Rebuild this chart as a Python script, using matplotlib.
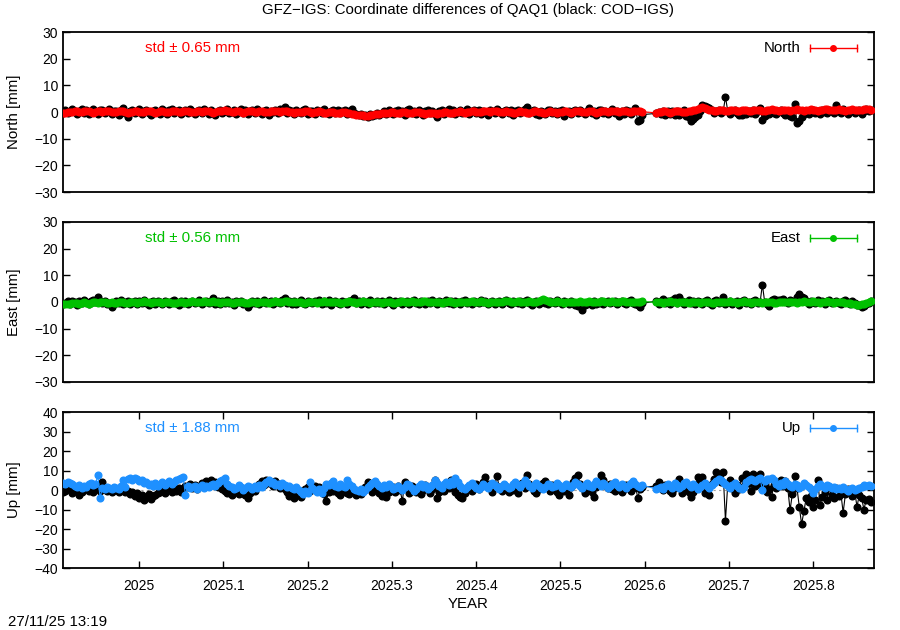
import numpy as np
import matplotlib
matplotlib.use("Agg")
import matplotlib.pyplot as plt

plt.rcParams['font.family'] = ['Liberation Sans', 'DejaVu Sans']
plt.rcParams['font.size'] = 10.8

# daily solutions, first epoch (decimal year) and days without data
t0 = 2024.910
missing_days = [252, 253, 254, 255, 256]
n_days = 351

# North [mm]: GFZ-IGS (red) and COD-IGS (black)
north_cod = [
    -0.5, 0.8, -0.3, 0.5, 1.2, 0.2, -0.8, 0.4, 1.0, -0.2, 0.6, -0.9, 0.3, 1.1, 0.0, -0.6, 0.7, 0.9, -0.4, 0.2,
    1.0, -0.7, 0.5, 0.3, -1.0, 0.6, 1.6, -0.3, -1.8, 0.4, 0.9, -0.5, 0.2, 1.1, -0.8, 0.3, 0.7, -0.2, -1.1, 0.5,
    0.8, 0.0, -0.6, 1.0, 0.4, -0.9, 0.6, 1.2, -0.3, 0.2, 0.9, -0.7, 0.1, 0.6, -0.4, 1.0, 0.3, -0.8, 0.5, 0.7,
    -0.2, 1.1, 0.4, -0.6, 0.8, 0.0, -1.0, 0.5, 0.9, -0.3, 0.3, 1.2, -0.5, 0.1, 0.7, -0.9, 0.4, 1.0, -0.2, 0.6,
    -0.7, 0.3, 0.8, -0.4, 1.1, 0.2, -0.6, 0.5, 0.9, -1.0, 0.4, 0.0, 0.7, -0.5, 1.0, 0.3, 1.8, -0.4, 0.6, 0.2,
    -0.8, 0.9, 0.1, -0.3, 0.7, 1.0, -0.6, 0.4, 0.2, -0.9, 0.8, 0.3, -0.4, 1.1, 0.0, -0.7, 0.5, 0.6, -0.2, 0.9,
    -0.5, 0.2, 0.7, -0.8, 0.3, 1.0, -0.4, -0.9, -1.2, -0.6, -1.5, -1.1, -1.8, -0.9, -1.4, -1.0, -0.5, -1.2, -0.3, 0.4,
    -0.6, 0.8, 0.1, -0.9, 0.5, 0.9, -0.3, 0.2, -1.0, 0.6, 1.0, -0.4, 0.3, -0.7, 0.8, 0.0, -1.1, 0.5, 0.7, -0.5,
    0.3, -0.8, -2.0, 0.4, 0.9, -0.6, 0.2, 1.0, -0.3, 0.6, -0.9, 0.1, 0.8, -0.5, 0.4, 1.1, -0.7, 0.3, 0.6, -0.2,
    0.9, -0.6, 0.4, 0.0, -1.0, 0.7, 0.2, -0.4, 1.0, 0.5, -0.8, 0.3, 0.8, -0.3, 0.6, -1.1, 0.2, 0.9, -0.5, 0.4,
    1.0, 1.8, -0.4, 0.3, 0.7, -0.6, -1.0, 0.5, 0.1, -0.8, 0.6, 0.9, -0.3, 0.2, -0.7, 0.4, 0.8, -1.5, 0.0, 0.5,
    -0.9, 0.3, 0.7, -0.4, 0.9, 0.1, -0.6, 0.5, 1.5, -0.3, 0.2, -1.0, 0.6, 0.8, -0.5, 0.3, -0.8, 0.4, 1.0, -0.2,
    0.5, -1.5, 0.2, -0.7, 0.6, 0.3, -0.9, 0.4, 1.5, -3.5, -3.0, -1.0,
    # gap
    -0.5, 0.0, -0.8, 0.4, -1.2, 0.3, -0.6, 0.2, -1.0, 0.5, -1.0, -0.3, 0.6, -1.4, -2.0, -3.5, -2.8, -2.0, -1.2, 0.5,
    2.5, 2.2, 2.0, 1.5, 0.8, -0.4, 0.3, 0.6, -0.5, 0.2, 5.6, 0.4, -0.6, 0.3, 0.7, -0.4, -1.0, -1.3, 0.2, -0.6,
    0.5, -0.3, 0.8, -0.8, 0.2, 1.5, -3.0, -1.5, 0.3, -0.7, 0.6, -0.2, -0.9, 0.4, 0.8, -0.5, -1.2, 0.3, -1.5, -2.0,
    3.0, -4.0, -3.2, -2.0, -0.8, 0.2, -0.6, 0.5, 0.9, -0.3, 0.4, -0.7, 0.6, 0.1, -0.5, 0.8, 0.3, -0.4, 2.5, 0.6,
    -0.5, 1.0, 0.2, -0.8, 0.5, 0.9, -0.3, 0.4, 0.7, -0.6, 0.3, 1.0, 0.2, 0.6,
]
north_gfz = [
    -0.5, -0.3, -0.1, 0.1, 0.0, 0.2, 0.3, 0.1, -0.1, 0.2, 0.4, 0.2, 0.0, -0.2, 0.1, 0.3, 0.2, 0.0, 0.2, 0.4,
    0.3, 0.1, -0.1, 0.0, 0.2, 0.4, 0.3, 0.1, -0.2, -0.1, 0.1, 0.3, 0.2, 0.0, -0.1, 0.1, 0.3, 0.4, 0.2, 0.0,
    -0.2, 0.0, 0.2, 0.3, 0.1, -0.1, 0.1, 0.3, 0.5, 0.3, 0.1, 0.0, 0.2, 0.4, 0.3, 0.1, -0.1, 0.1, 0.3, 0.2,
    0.0, 0.2, 0.4, 0.2, 0.0, -0.2, 0.0, 0.2, 0.3, 0.5, 0.6, 0.4, 0.2, 0.0, 0.1, 0.3, 0.2, 0.0, -0.2, 0.0,
    0.2, 0.4, 0.3, 0.1, 0.0, 0.2, 0.3, 0.1, -0.1, 0.0, 0.2, 0.4, 0.5, 0.3, 0.1, 0.2, 0.4, 0.3, 0.1, 0.0,
    -0.2, 0.0, 0.1, -0.1, 0.1, 0.3, 0.2, 0.0, -0.2, -0.1, 0.1, 0.2, 0.0, -0.2, -0.3, -0.1, 0.1, 0.0, -0.2, -0.4,
    -0.3, -0.1, 0.0, -0.2, -0.4, -0.6, -0.8, -1.0, -1.2, -1.1, -1.3, -1.5, -1.4, -1.2, -1.0, -0.8, -0.9, -0.7, -0.5, -0.3,
    -0.4, -0.2, 0.0, -0.1, -0.3, -0.5, -0.3, -0.1, 0.0, -0.2, -0.4, -0.3, -0.1, 0.1, 0.0, -0.2, -0.4, -0.6, -0.4, -0.2,
    -0.3, -0.5, -0.7, -0.5, -0.3, -0.1, 0.0, -0.2, -0.4, -0.3, -0.1, 0.1, 0.2, 0.0, -0.2, -0.1, 0.1, 0.3, 0.2, 0.0,
    -0.1, 0.1, 0.3, 0.4, 0.2, 0.0, 0.2, 0.4, 0.3, 0.1, -0.1, 0.0, 0.2, 0.1, -0.1, -0.3, -0.2, 0.0, 0.2, 0.1,
    -0.1, -0.3, -0.2, 0.0, 0.2, 0.3, 0.1, -0.1, -0.3, -0.2, 0.0, 0.2, 0.1, -0.1, -0.3, -0.1, 0.1, 0.3, 0.2, 0.0,
    -0.2, 0.0, 0.2, 0.4, 0.3, 0.1, -0.1, 0.1, 0.3, 0.2, 0.0, -0.2, 0.0, 0.2, 0.4, 0.3, 0.1, 0.2, 0.4, 0.5,
    0.3, 0.1, 0.2, 0.4, 0.3, 0.1, 0.0, 0.2, 0.4, 0.5, 0.3, 0.1,
    # gap
    -0.3, -0.1, 0.1, 0.3, 0.2, 0.0, -0.2, 0.0, 0.2, 0.4, 0.3, 0.1, -0.1, 0.1, 0.3, 0.5, 0.7, 0.9, 1.2, 1.5,
    1.8, 1.6, 1.2, 0.9, 0.6, 0.5, 0.4, 0.6, 0.8, 0.6, 0.4, 0.5, 0.7, 0.8, 0.6, 0.4, 0.5, 0.7, 0.9, 0.7,
    0.5, 0.4, 0.6, 0.8, 0.9, 0.7, 0.5, 0.4, 0.6, 0.8, 1.0, 0.8, 0.6, 0.5, 0.7, 0.9, 0.8, 0.6, 0.5, 0.7,
    0.9, 1.0, 0.8, 0.6, 0.4, 0.6, 0.8, 1.0, 0.9, 0.7, 0.5, 0.6, 0.8, 1.0, 1.1, 0.9, 0.7, 0.6, 0.8, 1.0,
    0.8, 0.6, 0.5, 0.7, 0.9, 1.1, 0.9, 0.7, 0.6, 0.8, 1.0, 1.2, 1.0, 0.8,
]

# East [mm]
east_cod = [
    -0.8, -0.3, 0.2, -0.6, 0.5, 0.0, -1.0, 0.3, -0.4, 0.6, 0.1, -0.7, 0.4, 0.8, -0.2, 1.9, 0.5, -0.3, 0.2, -0.9,
    -0.5, -2.0, -0.8, 0.3, -0.4, 0.6, -0.9, 0.1, 0.5, -0.6, -0.2, 0.4, -0.8, 0.2, -0.3, 0.7, -0.5, -1.0, 0.0, 0.3,
    -0.6, 0.5, -0.2, -0.9, 0.4, 0.0, -0.7, 0.3, 0.6, -0.4, -1.0, 0.2, -0.3, 0.5, -0.8, 0.1, 0.4, -0.5, -0.2, 0.6,
    -0.7, 0.0, 0.3, -0.4, 0.5, 1.3, -0.6, 0.2, -0.9, 0.4, -0.3, 0.6, -0.5, 0.1, -1.0, 0.3, -0.2, 0.5, -0.7, -0.4,
    -2.0, -0.6, 0.2, -0.3, 0.4, -0.8, 0.1, 0.6, -0.5, -0.1, 0.3, -0.9, 0.5, 0.0, -0.4, 0.7, 1.5, -0.3, 0.2, -0.6,
    0.4, -0.8, 0.1, 0.6, -0.3, -0.9, 0.3, 0.0, -0.5, 0.5, -0.2, 0.8, -0.7, 0.2, -0.4, 0.6, -1.0, 0.1, 0.4, -0.3,
    -0.6, 0.5, -0.1, -0.8, 0.3, 0.7, 1.5, -0.4, 0.2, -0.7, 0.4, -0.2, -0.9, 0.6, 0.0, -0.5, 0.3, -0.3, 0.5, -0.8,
    0.1, 0.6, -0.4, -1.0, 0.3, -0.2, 0.5, -0.6, 0.0, 0.4, -0.9, 0.2, 0.7, -0.3, -0.6, 0.5, 0.1, -0.8, 0.3, -0.4,
    0.6, -0.2, -0.7, 0.4, 0.0, -0.5, 0.8, -0.3, 0.2, -0.9, 0.5, -0.1, -0.6, 0.3, 0.7, -0.4, 0.1, -0.8, 0.4, 0.0,
    -0.5, 0.6, -0.2, 0.3, -0.8, 0.1, 0.5, -0.6, -0.1, 0.4, -0.9, 0.2, 0.6, -0.3, -0.7, 0.5, 0.0, -0.4, 0.3, -0.6,
    0.2, 0.7, -0.5, -1.0, -0.2, 0.4, -0.7, 0.1, 0.5, -0.3, -0.8, 0.3, 0.0, -0.5, 0.6, -0.2, -0.9, 0.4, 0.1, -0.6,
    0.3, -0.4, -1.2, -1.5, -1.0, -3.0, -1.2, -0.8, -0.4, -1.0, 0.2, -0.6, -0.3, 0.4, -0.9, -0.1, 0.5, -0.5, -0.2, 0.3,
    -0.7, 0.1, 0.4, -0.4, -0.9, 0.2, 0.6, -0.3, -0.6, -1.2, -1.9, -0.5,
    # gap
    0.3, -0.8, 0.5, 1.2, -0.4, 0.2, -0.9, 0.6, 1.6, -0.3, 1.8, 0.4, -0.7, 0.1, 0.8, -0.5, 0.3, -0.9, 0.5, 0.0,
    -0.6, 0.4, 0.9, -0.3, -1.1, 0.2, 0.6, -0.4, 0.3, 1.9, -0.8, 0.1, 0.5, -0.6, -0.2, 0.4, -1.0, 0.2, 0.6, -0.5,
    0.1, -0.7, 0.3, 0.7, -0.4, -0.2, 6.5, 0.0, -0.8, -1.5, 0.6, 1.0, 0.8, 0.9, 0.6, 1.0, 0.4, -0.3, 0.7, 0.2,
    0.5, 2.0, 2.8, 1.9, 1.3, 0.3, -0.6, 0.4, 0.1, -0.5, 0.6, -0.2, 0.3, -0.9, 0.2, 0.7, -0.4, 0.0, 0.5, -0.3,
    -0.8, 0.3, 0.6, -0.2, -0.6, 0.4, -0.5, -1.0, -1.2, -2.0, -1.4, -0.8, -0.3, 0.2,
]
east_gfz = [
    -0.9, -0.7, -0.6, -0.8, -0.5, -0.3, -0.5, -0.7, -0.4, -0.2, -0.4, -0.6, -0.3, 0.0, -0.2, -0.4, -0.1, 0.1, -0.2, -0.4,
    -0.3, -0.1, -0.3, -0.5, -0.2, 0.0, -0.2, -0.4, -0.3, -0.1, 0.1, -0.1, -0.3, -0.2, 0.0, 0.2, 0.0, -0.2, -0.4, -0.2,
    0.0, 0.1, -0.1, -0.3, -0.1, 0.1, -0.1, -0.3, -0.5, -0.3, -0.1, 0.0, -0.2, -0.4, -0.2, 0.0, 0.2, 0.0, -0.2, -0.1,
    0.1, 0.3, 0.1, -0.1, 0.0, 0.2, 0.0, -0.2, -0.3, -0.1, 0.1, 0.0, -0.2, -0.4, -0.3, -0.1, 0.1, 0.0, -0.2, -0.4,
    -0.3, -0.1, 0.0, -0.2, -0.4, -0.2, 0.0, 0.1, -0.1, -0.3, -0.2, 0.0, 0.2, 0.1, -0.1, 0.1, 0.3, 0.2, 0.0, -0.2,
    -0.1, 0.1, 0.0, -0.2, -0.4, -0.3, -0.1, 0.1, 0.0, -0.2, -0.4, -0.2, 0.0, 0.2, 0.0, -0.2, -0.1, 0.1, 0.0, -0.2,
    -0.4, -0.3, -0.1, 0.1, 0.3, 0.1, -0.1, -0.3, -0.2, 0.0, 0.2, 0.0, -0.2, -0.4, -0.2, 0.0, 0.1, -0.1, -0.3, -0.1,
    0.1, 0.0, -0.2, -0.4, -0.3, -0.1, 0.1, 0.3, 0.1, -0.1, 0.0, 0.2, 0.0, -0.2, -0.1, 0.1, 0.3, 0.2, 0.0, -0.2,
    -0.1, 0.1, 0.0, -0.2, -0.4, -0.2, 0.0, 0.2, 0.1, -0.1, -0.3, -0.1, 0.1, 0.0, -0.2, -0.1, 0.1, 0.3, 0.1, -0.1,
    0.0, 0.2, 0.0, -0.2, -0.3, -0.1, 0.1, 0.0, -0.2, -0.1, 0.1, 0.3, 0.5, 0.3, 0.1, -0.1, 0.0, 0.2, 0.0, -0.2,
    -0.1, 0.1, 0.3, 0.1, -0.1, 0.0, 0.3, 0.8, 1.2, 0.6, 0.2, 0.0, -0.2, 0.0, 0.2, 0.1, -0.1, -0.3, -0.1, 0.1,
    0.0, -0.2, -0.1, 0.1, 0.3, 0.1, -0.1, 0.0, 0.2, 0.0, -0.2, -0.1, 0.1, 0.3, 0.2, 0.0, -0.2, 0.0, 0.2, 0.1,
    -0.1, 0.1, 0.3, 0.2, 0.0, -0.2, -0.1, 0.1, 0.0, -0.2, 0.0, 0.2,
    # gap
    -0.2, 0.0, -0.2, -0.4, -0.2, 0.0, 0.2, 0.0, -0.2, -0.3, -0.1, 0.1, 0.0, -0.2, -0.4, -0.2, 0.0, 0.1, -0.1, -0.3,
    -0.1, 0.1, 0.0, -0.2, -0.4, -0.3, -0.1, 0.1, 0.0, -0.2, -0.1, 0.1, 0.3, 0.1, -0.1, -0.3, -0.2, 0.0, 0.2, 0.0,
    -0.2, -0.4, -0.2, 0.0, 0.1, -0.1, -0.3, -0.1, 0.1, 0.0, -0.2, -0.4, -0.3, -0.1, 0.1, 0.0, -0.2, -0.1, 0.1, 0.0,
    -0.2, -0.3, -0.1, 0.1, 0.3, 0.1, -0.1, 0.0, 0.2, 0.0, -0.2, -0.4, -0.2, 0.0, 0.2, 0.1, -0.1, -0.3, -0.2, 0.0,
    0.1, -0.1, -0.3, -0.5, -0.3, -0.6, -0.8, -1.0, -1.2, -0.9, -0.7, -0.3, 0.0, 0.4,
]

# Up [mm]
up_cod = [
    -1.0, -0.5, 0.5, 2.0, -1.5, -0.3, 1.0, -2.6, -0.8, 0.5, 1.5, -0.5, 0.8, -1.0, 0.3, 1.5, -0.5, 4.0, 1.0, -0.5,
    0.5, -1.0, 1.2, 0.0, -0.8, 1.0, 0.2, -1.2, -0.3, -2.0, -1.0, -3.0, -1.5, -4.0, -2.5, -5.0, -3.5, -2.0, -4.5, -3.0,
    -2.5, -1.5, -1.0, 0.5, -1.5, 0.0, 1.5, -0.8, 0.8, -0.5, 1.0, -1.2, 0.5, 2.0, 1.5, 3.0, 1.0, 2.5, 0.5, 1.5,
    3.5, 2.0, 4.5, 3.0, 5.0, 2.5, 4.0, 1.5, 3.5, 0.5, -0.5, -1.5, -0.2, -2.5, -1.0, 0.2, -2.0, -0.8, -1.5, -2.5,
    -4.0, -1.5, 0.5, -0.5, 1.5, 3.0, 4.5, 2.5, 5.0, 3.5, 4.0, 2.0, 4.8, 3.0, 1.0, 2.5, 0.5, -1.0, -3.0, -1.5,
    -4.0, -2.5, -0.5, -3.5, -1.0, 0.5, 1.5, -0.5, 1.0, 2.0, -0.5, 1.5, 0.0, -2.0, -5.5, -1.0, 1.0, -0.5, 1.5, -1.5,
    -2.5, -1.0, 0.5, -1.5, -2.0, 1.0, -0.5, -2.5, -1.0, -2.0, 0.0, 1.5, 4.3, 1.0, -1.0, 0.5, 1.5, -1.5, -3.0, -2.0,
    -3.5, -1.0, 0.5, 1.5, -1.0, 2.0, 0.0, -5.7, 4.3, 1.0, -1.5, 2.0, 0.5, -1.0, 1.5, -2.0, 0.0, 2.5, 1.0, -1.5,
    0.5, 5.0, -4.0, -1.0, 1.5, -0.5, 2.5, 1.0, 5.0, 2.0, -1.0, -2.5, -3.5, -4.0, -1.5, 0.5, 2.0, -0.5, 1.0, 3.0,
    0.5, 2.5, 4.0, 6.5, 3.0, 1.0, -1.0, 2.5, 7.0, 1.5, -0.5, 2.0, 0.5, -1.0, 1.5, 0.0, 0.5, -1.5, 2.0, 3.5,
    1.0, 7.7, 3.0, 1.5, -0.5, -1.5, 0.5, 2.0, 3.5, 4.5, 1.5, -0.5, 2.5, 0.5, -1.0, -2.5, 1.0, -0.5, 0.5, -2.4,
    1.5, 4.0, 6.0, 7.7, 3.0, 1.0, -1.5, 2.5, 0.5, -1.0, -3.5, 1.5, 4.0, 7.7, 5.0, 2.5, 1.0, 3.0, 0.5, -0.5,
    2.0, 1.0, -1.0, 0.5, 2.5, 1.5, -0.5, 1.0, 2.0, -4.0, 0.5, 1.5,
    # gap
    2.0, 4.3, 1.0, 0.0, 2.5, 1.5, -0.5, -1.5, 1.0, 3.0, 5.6, -1.5, 0.5, 2.0, -1.0, -3.4, -1.0, 1.5, 6.8, 4.0,
    6.5, -1.5, 1.5, -2.5, 3.0, 5.5, 9.4, 7.0, 4.0, 9.0, -15.7, 3.0, 5.0, 1.0, -1.5, 2.5, 0.5, 6.0, 2.0, 8.4,
    3.5, -0.5, 8.4, 2.0, 4.0, 8.4, 1.5, 3.0, -1.0, 0.5, -3.4, 2.5, 1.0, 3.5, 5.0, 2.0, 4.5, 1.0, -10.3, -2.0,
    7.2, 1.0, -8.6, -17.5, -11.0, -4.0, -6.0, -3.0, -8.5, -5.0, 5.0, -7.5, -3.5, -1.0, -5.0, 1.5, -2.5, -4.0, 1.0, -3.0,
    -1.5, -11.6, -2.0, 0.5, -1.0, -3.0, -0.5, -8.6, -2.5, -4.0, -10.0, -5.0, -4.5, -6.0,
]
up_gfz = [
    3.5, 3.0, 4.0, 3.5, 3.0, 2.0, 1.5, 2.5, 1.0, 2.0, 1.5, 3.0, 3.5, 2.5, 3.0, 7.5, -4.0, 1.0, 0.5, 1.5,
    1.0, 0.5, 1.5, 1.0, 0.5, 2.0, 5.0, 1.5, 5.5, 6.0, 5.0, 6.0, 5.5, 4.5, 5.0, 3.5, 4.0, 2.5, 3.0, 2.0,
    3.5, 2.0, 3.0, 4.0, 2.5, 3.5, 4.5, 3.0, 4.0, 5.0, 5.5, 6.0, 6.5, -2.5, 2.0, 1.0, 1.5, 2.0, 0.5, 1.5,
    2.5, 1.0, 2.0, 1.5, 2.5, 3.0, 2.0, 3.5, 4.5, 5.0, 6.0, 3.0, 2.0, 1.5, 0.5, 1.0, 2.5, 1.5, 0.0, 1.0,
    2.0, 1.5, 0.5, 2.0, 1.0, 2.5, 1.5, 3.0, 4.0, 5.0, 3.5, 4.0, 2.5, 3.0, 2.0, 3.5, 2.5, 1.5, 2.0, 1.0,
    0.5, 1.5, 0.0, -1.0, -2.0, -0.5, -1.5, 4.0, 1.0, 0.0, -1.0, 0.5, -1.5, 1.0, 3.0, 2.5, 3.5, 4.5, 2.0, 1.5,
    3.0, 2.0, 1.5, 5.0, 3.0, 2.0, 0.5, 0.0, -0.5, 0.5, -1.0, 0.0, 1.5, 2.5, 3.5, 4.5, 3.0, 2.0, 1.0, 2.5,
    1.5, 3.0, 2.0, 0.5, 1.0, 2.0, 1.0, 0.0, 1.5, 3.0, 2.5, 1.0, -0.5, 0.5, 2.0, 3.0, 1.5, 2.5, 0.5, 1.5,
    2.5, 5.0, 3.5, 2.0, 1.0, 3.0, 4.0, 2.5, 4.5, 3.0, 6.0, 4.0, 2.0, 1.0, 0.5, 1.5, 2.5, 3.5, 2.0, 1.0,
    0.5, 1.5, 3.0, 2.0, 1.0, 2.5, 3.5, 2.5, 1.5, 0.5, 2.0, 3.0, 2.0, 1.0, 1.5, 3.0, 4.0, 2.5, 1.5, 3.0,
    5.0, 3.5, 2.0, 1.0, 2.5, 3.5, 2.0, 1.0, 0.5, 1.5, 3.0, 2.5, 1.5, 2.0, 3.5, 2.5, 1.0, 2.0, 3.0, 2.0,
    1.5, 2.5, 4.0, 3.0, 2.0, 1.0, 2.5, 3.5, 2.0, 1.5, 3.0, 4.5, 3.0, 2.0, 3.5, 2.5, 1.0, 2.0, 3.0, 4.0,
    2.5, 1.5, 3.0, 2.0, 1.0, 2.5, 3.5, 4.5, 3.0, 2.0, 1.5, 2.5,
    # gap
    0.5, 1.0, 1.5, 0.5, 2.0, 3.0, 2.0, 1.0, 3.5, 2.5, 1.0, 2.0, 3.5, 4.0, 2.5, 1.5, 3.0, 2.0, 0.5, 1.5,
    2.5, 3.5, 2.0, 1.0, 2.5, 3.5, 4.5, 5.5, 5.0, 4.0, 3.0, 2.0, 1.0, 2.5, 3.5, 2.0, 1.0, 0.5, 1.5, 4.0,
    5.0, 5.5, 5.0, 4.5, 5.5, 6.0, 0.0, 4.5, 5.5, 5.5, 6.0, 5.0, 3.0, 2.0, 3.5, 2.5, 4.5, 3.0, 2.0, 1.5,
    3.0, 2.5, 1.0, 2.0, 3.5, 2.5, 1.5, 0.5, -1.5, 0.5, 2.0, 3.0, 2.0, 1.0, 2.5, 2.0, 1.0, 1.5, 0.5, 1.0,
    0.5, 1.5, 0.5, -0.5, 0.5, 1.0, 0.0, 0.5, 1.0, 1.5, 2.5, 2.0, 2.5, 2.0,
]

components = ["North", "East", "Up"]
std_values = [0.65, 0.56, 1.88]
colors = ["#ff0000", "#00c000", "#1e90ff"]
ylims = [(-30, 30), (-30, 30), (-40, 40)]
xticks = [2025.0, 2025.1, 2025.2, 2025.3, 2025.4, 2025.5, 2025.6, 2025.7, 2025.8]
xtick_labels = ["2025", "2025.1", "2025.2", "2025.3", "2025.4", "2025.5", "2025.6", "2025.7", "2025.8"]

days = np.array([d for d in range(n_days) if d not in missing_days])
t = t0 + days / 365.25
cod = [north_cod, east_cod, up_cod]
gfz = [north_gfz, east_gfz, up_gfz]

fig = plt.figure(figsize=(9, 6.3), dpi=100)
boxes = [[0.07, 0.6952, 0.9011, 0.254],
         [0.07, 0.3937, 0.9011, 0.254],
         [0.07, 0.0984, 0.9011, 0.2476]]

for i, comp in enumerate(components):
    ax = fig.add_axes(boxes[i])
    ax.axhline(0, color="#a0a0a0", lw=0.8, ls=(0, (2, 3)), zorder=1)
    ax.plot(t, cod[i], "-o", color="black", lw=0.8, ms=4.8, zorder=2)
    ax.plot(t, gfz[i], "-o", color=colors[i], lw=0.8, ms=4.8, zorder=3)

    ax.set_xlim(2024.9098, 2025.872)
    ax.set_ylim(*ylims[i])
    lo, hi = ylims[i]
    ax.set_yticks(np.arange(lo, hi + 1, 10))
    ax.set_ylabel(f"{comp} [mm]")
    ax.yaxis.set_label_coords(-0.052, 0.5)
    for s in ax.spines.values():
        s.set_linewidth(1.3)
    ax.tick_params(axis="y", direction="in", length=5, width=1, left=True, right=True, labelsize=10)
    if i == 2:
        ax.set_xticks(xticks)
        ax.set_xticklabels(xtick_labels)
        ax.tick_params(axis="x", direction="in", length=5, width=1, top=True, bottom=True,
                       pad=8, labelsize=10)
    else:
        ax.set_xticks([])

    ax.text(0.101, 0.9, f"std \u00b1 {std_values[i]:.2f} mm", color=colors[i],
            transform=ax.transAxes, ha="left", va="center")
    # key: label + error-bar sample
    ax.text(0.91, 0.9, comp, transform=ax.transAxes, ha="right", va="center")
    ax.plot([0.921, 0.979], [0.9, 0.9], color=colors[i], lw=1, transform=ax.transAxes)
    ax.plot([0.921, 0.979], [0.9, 0.9], "|", color=colors[i], ms=6, transform=ax.transAxes)
    ax.plot([0.949], [0.9], "o", color=colors[i], ms=4, transform=ax.transAxes)

fig.text(0.52, 0.984, "GFZ\u2212IGS: Coordinate differences of QAQ1 (black: COD\u2212IGS)",
         ha="center", va="center")
fig.text(0.52, 0.041, "YEAR", ha="center", va="center")
fig.text(0.009, 0.0127, "27/11/25 13:19", ha="left", va="center")

fig.savefig("out.png", dpi=100)
